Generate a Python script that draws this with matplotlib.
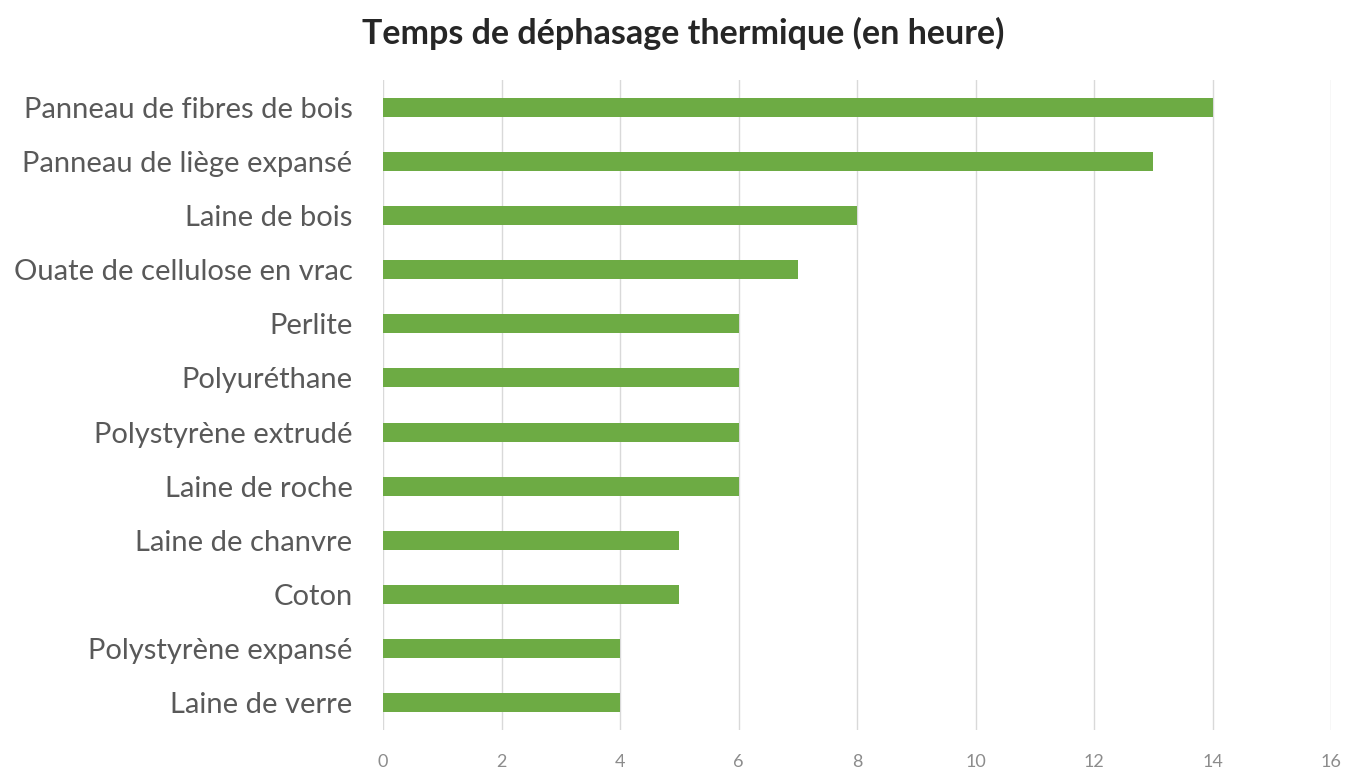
import matplotlib.pyplot as plt
import numpy as np

# data, top to bottom as in the chart
materials = ["Panneau de fibres de bois", "Panneau de liège expansé", "Laine de bois",
             "Ouate de cellulose en vrac", "Perlite", "Polyuréthane",
             "Polystyrène extrudé", "Laine de roche", "Laine de chanvre", "Coton",
             "Polystyrène expansé", "Laine de verre"]
hours = [14, 13, 8, 7, 6, 6, 6, 6, 5, 5, 4, 4]
xticks = [0, 2, 4, 6, 8, 10, 12, 14, 16]

plt.rcParams['font.family'] = ['Lato', 'DejaVu Sans']

fig = plt.figure(figsize=(13.45, 7.7), dpi=100)
ax = fig.add_axes([0.2848, 0.052, 0.7048, 0.844])

ypos = np.arange(len(materials))
ax.barh(ypos, hours, height=0.35, color="#6DAB44", zorder=3)
ax.set_ylim(len(materials) - 0.5, -0.5)
ax.set_xlim(0, 16)
ax.set_xticks(xticks)
ax.set_xticklabels([str(t) for t in xticks], fontsize=13, color="#8c8c8c")
ax.set_yticks(ypos)
ax.set_yticklabels(materials, fontsize=21, color="#595959")
ax.tick_params(axis="both", length=0)
ax.tick_params(axis="x", pad=17)
ax.tick_params(axis="y", pad=22)
ax.grid(axis="x", color="#d9d9d9", linewidth=1, zorder=0)
for s in ax.spines.values():
    s.set_visible(False)

fig.text(0.508, 0.956, "Temps de déphasage thermique (en heure)", ha="center", va="center",
         fontsize=24.5, fontweight="bold", color="#262626")

fig.savefig("out.png", dpi=100, facecolor="white")
